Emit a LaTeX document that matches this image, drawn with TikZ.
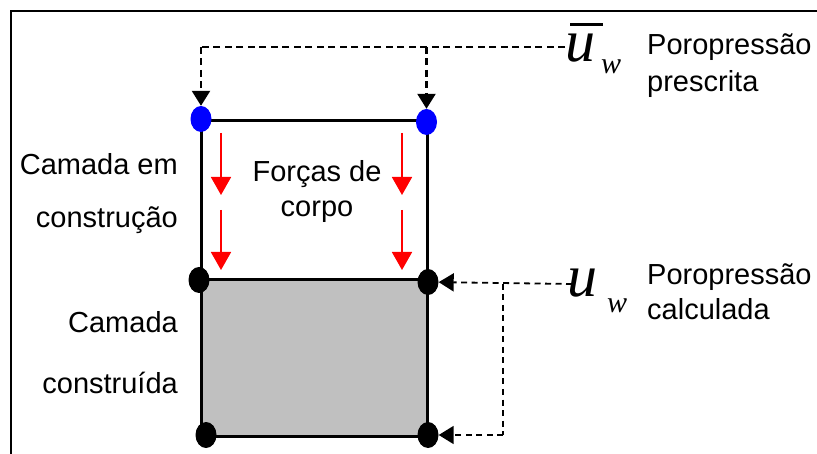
\documentclass[tikz,border=0pt]{standalone}
\usepackage{fontspec}
\setmainfont{Liberation Sans}
\newfontfamily\serifit{Liberation Serif}
\usetikzlibrary{arrows.meta,shapes.geometric}
\definecolor{layergray}{RGB}{192,192,192}
\tikzset{
  lbl/.style={inner sep=0pt, font=\fontsize{29}{34}\selectfont},
  bluedot/.style={ellipse, fill=blue, minimum width=21pt, minimum height=26pt, inner sep=0pt},
  blackdot/.style={ellipse, fill=black, minimum width=21pt, minimum height=26pt, inner sep=0pt},
  dashtop/.style={line width=2.4pt, dash pattern=on 7pt off 4.5pt},
  dashlow/.style={line width=1.8pt, dash pattern=on 6pt off 4.5pt},
  tiparrow/.style={-{Triangle[width=18pt,length=15pt]}},
  redarrow/.style={red, line width=1.8pt, -{Triangle[width=20pt,length=18pt]}},
  symu/.style={inner sep=0pt, font=\fontsize{60}{60}\selectfont\serifit\itshape},
  symw/.style={inner sep=0pt, font=\fontsize{30}{30}\selectfont\serifit\itshape},
}
\begin{document}
\begin{tikzpicture}[x=1pt,y=-1pt]
\useasboundingbox (0,0) rectangle (817,454);
% frame
\draw[line width=2pt] (11,454) -- (11,11) -- (817,11);
% constructed layer
\fill[layergray] (201,280) rectangle (427,436);
\draw[line width=3pt] (201,121) rectangle (427,436);
\draw[line width=3pt] (201,280) -- (427,280);
% dots
\node[bluedot] (b1) at (201,119) {};
\node[bluedot] (b2) at (426.5,122) {};
\node[blackdot] (k1) at (199,280) {};
\node[blackdot] (k2) at (428,282) {};
\node[blackdot] (k3) at (206,435) {};
\node[blackdot] (k4) at (428,435) {};
% body forces
\draw[redarrow] (221,133) -- (221,195);
\draw[redarrow] (221,210) -- (221,270);
\draw[redarrow] (402,133) -- (402,195);
\draw[redarrow] (402,210) -- (402,270);
\node[lbl, anchor=base] (f1) at (317,182) {Forças de};
\node[lbl, anchor=base] (f2) at (317,217) {corpo};
% left labels
\node[lbl, anchor=base east] (l1) at (178,175) {Camada em};
\node[lbl, anchor=base east] (l2) at (178,228) {construção};
\node[lbl, anchor=base east] (l3) at (178,333) {Camada};
\node[lbl, anchor=base east] (l4) at (178,393) {construída};
% prescribed pore pressure
\node[symu, anchor=base west] (ub) at (565,62) {u};
\draw[line width=3pt] (570,25) -- (603,25);
\node[symw, anchor=base west] (wb) at (601,74) {w};
\node[lbl, anchor=base west] (p1) at (647,55) {Poropressão};
\node[lbl, anchor=base west] (p2) at (647,92) {prescrita};
\coordinate (cs) at (565,47);
\coordinate (c1) at (201,47);
\coordinate (c2) at (426.5,47);
\draw[dashtop] (cs) -- (c1);
\draw[dashtop, tiparrow] (c1) -- (b1);
\draw[dashtop, tiparrow] (c2) -- (b2);
% calculated pore pressure
\node[symu, anchor=base west] (uc) at (567,297) {u};
\node[symw, anchor=base west] (wc) at (607,313) {w};
\node[lbl, anchor=base west] (q1) at (647,285) {Poropressão};
\node[lbl, anchor=base west] (q2) at (647,320) {calculada};
\coordinate (ds) at (572,284);
\coordinate (d1) at (503,284);
\coordinate (d2) at (503,435);
\draw[dashlow, tiparrow] (ds) -- (k2);
\draw[dashlow] (d1) -- (d2);
\draw[dashlow, tiparrow] (d2) -- (k4);
\end{tikzpicture}
\end{document}
